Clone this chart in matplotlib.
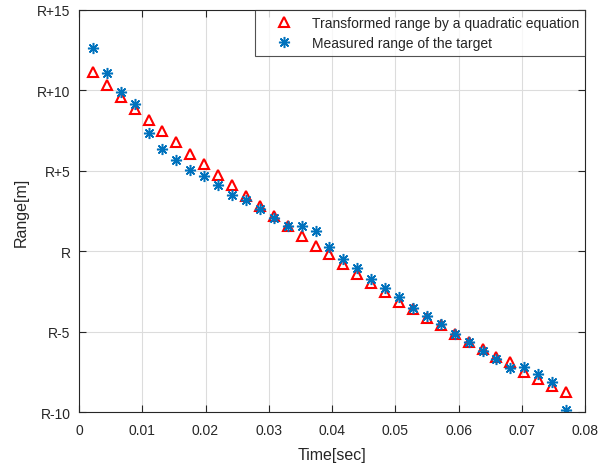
import matplotlib
matplotlib.use("Agg")
import matplotlib.pyplot as plt

time_sec = [0.0022, 0.0044, 0.0066, 0.0088, 0.0110, 0.0132, 0.0154, 0.0176, 0.0198,
            0.0220, 0.0242, 0.0264, 0.0286, 0.0308, 0.0330, 0.0352, 0.0374, 0.0396,
            0.0418, 0.0440, 0.0462, 0.0484, 0.0506, 0.0528, 0.0550, 0.0572, 0.0594,
            0.0616, 0.0638, 0.0660, 0.0682, 0.0704, 0.0726, 0.0748, 0.0770]

transformed = [11.16, 10.33, 9.61, 8.83, 8.16, 7.50, 6.78, 6.06, 5.44, 4.76,
               4.12, 3.45, 2.83, 2.17, 1.55, 0.93, 0.35, -0.20, -0.82, -1.44,
               -2.00, -2.54, -3.14, -3.61, -4.13, -4.61, -5.12, -5.62, -6.09, -6.55,
               -6.92, -7.50, -7.95, -8.37, -8.74]

measured = [12.65, 11.10, 9.92, 9.14, 7.38, 6.35, 5.69, 5.07, 4.69, 4.12,
            3.52, 3.21, 2.63, 2.07, 1.55, 1.59, 1.24, 0.25, -0.51, -1.07,
            -1.71, -2.27, -2.85, -3.55, -4.03, -4.54, -5.16, -5.62, -6.20, -6.71,
            -7.29, -7.19, -7.64, -8.12, -9.90]

xticks = [0, 0.01, 0.02, 0.03, 0.04, 0.05, 0.06, 0.07, 0.08]
xtick_labels = ["0", "0.01", "0.02", "0.03", "0.04", "0.05", "0.06", "0.07", "0.08"]
yticks = [-10, -5, 0, 5, 10, 15]
ytick_labels = ["R-10", "R-5", "R", "R+5", "R+10", "R+15"]

plt.rcParams['font.family'] = ['Liberation Sans', 'DejaVu Sans']
txt = '#262626'

fig = plt.figure(figsize=(6.11, 4.64), dpi=100)
ax = fig.add_axes([0.1293, 0.1099, 0.8282, 0.8664])

ax.plot(time_sec, transformed, linestyle='none', marker='^', markersize=7.5,
        markerfacecolor='none', markeredgecolor='#ff0000', markeredgewidth=1.5,
        label='Transformed range by a quadratic equation')
ax.plot(time_sec, measured, linestyle='none', marker=(8, 2, 0), markersize=8,
        markeredgecolor='#0072bd', markerfacecolor='#0072bd', markeredgewidth=1.1,
        label='Measured range of the target')

ax.set_xlim(0, 0.08)
ax.set_ylim(-10, 15)
ax.set_xticks(xticks)
ax.set_xticklabels(xtick_labels)
ax.set_yticks(yticks)
ax.set_yticklabels(ytick_labels)

ax.grid(True, color='#dcdcdc', linewidth=0.8)
ax.set_axisbelow(True)
ax.tick_params(direction='in', length=5, width=0.8, colors=txt, labelsize=10,
               top=True, right=True)
ax.tick_params(axis='x', pad=8)
ax.tick_params(axis='y', pad=6)
for s in ax.spines.values():
    s.set_color(txt)
    s.set_linewidth(0.8)

ax.set_xlabel('Time[sec]', fontsize=11.5, color=txt, labelpad=7)
ax.set_ylabel('Range[m]', fontsize=11.5, color=txt, labelpad=6)

leg = ax.legend(loc='upper right', fontsize=10, frameon=True, fancybox=False,
                edgecolor=txt, borderaxespad=0.0, handletextpad=0.4,
                borderpad=0.45, labelspacing=0.4, handlelength=3.2)
leg.get_frame().set_linewidth(0.8)
for t in leg.get_texts():
    t.set_color(txt)

fig.savefig('out.png', dpi=100)
